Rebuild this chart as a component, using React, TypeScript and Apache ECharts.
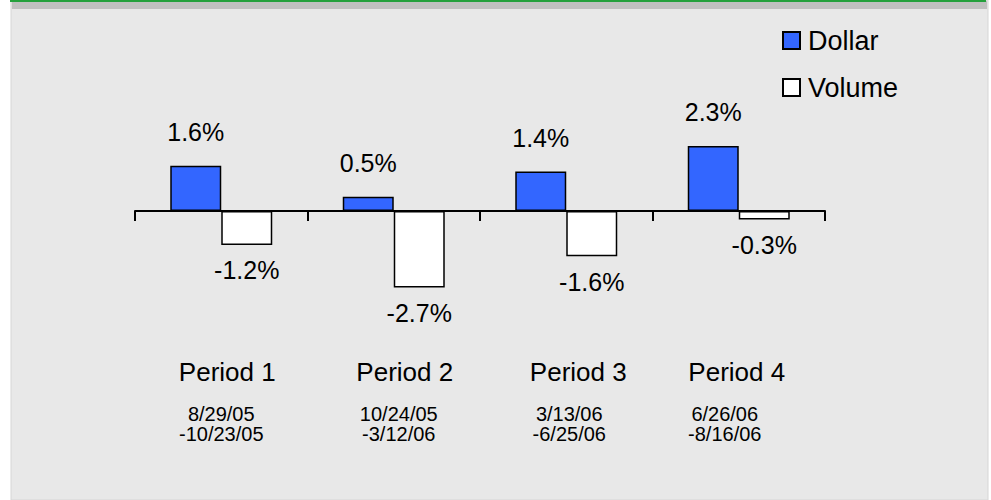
import React, { useEffect, useRef } from "react";
import * as echarts from "echarts";

const periods = ["Period 1", "Period 2", "Period 3", "Period 4"];
const dateStarts = ["8/29/05", "10/24/05", "3/13/06", "6/26/06"];
const dateEnds = ["-10/23/05", "-3/12/06", "-6/25/06", "-8/16/06"];
const dollarValues = [1.6, 0.5, 1.4, 2.3];
const volumeValues = [-1.2, -2.7, -1.6, -0.3];

const FONT = 'Arial, "Liberation Sans", Helvetica, sans-serif';

// small horizontal nudges of the category texts (px), as in the reference layout
const periodShift = [6, 11, 12, -2];
const dateShift = [0, 5, 3, -14];

const padFor = (s: number) => (s >= 0 ? [0, 0, 0, 2 * s] : [0, -2 * s, 0, 0]);

export default function App() {
  const ref = useRef<HTMLDivElement>(null);

  useEffect(() => {
    if (!ref.current) return;
    const chart = echarts.init(ref.current, undefined, { renderer: "svg" });
    const dateLabels = dateStarts.map((d, i) => `${d}\n${dateEnds[i]}`);
    const periodRich: Record<string, any> = {};
    const dateRich: Record<string, any> = {};
    periods.forEach((_, i) => {
      periodRich["p" + i] = {
        fontSize: 26,
        lineHeight: 26,
        fontFamily: FONT,
        color: "#000",
        padding: padFor(periodShift[i]),
      };
      dateRich["d" + i] = {
        fontSize: 20,
        lineHeight: 20,
        fontFamily: FONT,
        color: "#000",
        padding: padFor(dateShift[i]),
      };
    });
    chart.setOption({
      animation: false,
      backgroundColor: "#ffffff",
      textStyle: { fontFamily: FONT, color: "#000" },
      graphic: [
        {
          type: "rect",
          shape: { x: 11, y: 0, width: 977, height: 500 },
          style: { fill: "#e8e8e8", stroke: "#d6d6d6", lineWidth: 1 },
          z: -10,
        },
        {
          type: "rect",
          shape: { x: 12, y: 1, width: 975, height: 8 },
          style: { fill: "#c0c0c0" },
          z: -9,
        },
        {
          type: "rect",
          shape: { x: 10, y: 0, width: 976, height: 2 },
          style: { fill: "#24a03c" },
          z: -8,
        },
      ],
      legend: {
        orient: "vertical",
        left: 777,
        top: 22,
        itemWidth: 17,
        itemHeight: 17,
        itemGap: 20,
        icon: "rect",
        textStyle: { fontSize: 27, color: "#000", fontFamily: FONT, padding: [0, 0, 0, 3] },
        data: ["Dollar", "Volume"],
      },
      grid: { left: 135, right: 166, top: 97.8, bottom: 175.8, outerBoundsMode: "none" },
      xAxis: [
        {
          type: "category",
          data: periods,
          axisLine: { onZero: true, lineStyle: { color: "#000", width: 2 } },
          axisTick: { show: true, interval: 0, length: 10, lineStyle: { color: "#000", width: 2 } },
          axisLabel: {
            interval: 0,
            hideOverlap: false,
            margin: 35,
            fontSize: 26,
            lineHeight: 26,
            fontFamily: FONT,
            color: "#000",
            formatter: (v: string, i: number) => `{p${i}|${v}}`,
            rich: periodRich,
          },
        },
        {
          type: "category",
          data: dateLabels,
          position: "bottom",
          axisLine: { show: false, onZero: false },
          axisTick: { show: false },
          axisLabel: {
            interval: 0,
            hideOverlap: false,
            margin: 80,
            fontSize: 20,
            lineHeight: 20,
            fontFamily: FONT,
            color: "#000",
            formatter: (v: string, i: number) =>
              v
                .split("\n")
                .map((line) => `{d${i}|${line}}`)
                .join("\n"),
            rich: dateRich,
          },
        },
      ],
      yAxis: {
        type: "value",
        min: -4,
        max: 4,
        show: false,
        splitLine: { show: false },
      },
      series: [
        {
          name: "Dollar",
          type: "bar",
          xAxisIndex: 0,
          data: dollarValues,
          barWidth: 51,
          barGap: "0%",
          itemStyle: { color: "#3366FF", borderColor: "#000", borderWidth: 1.5 },
          label: {
            show: true,
            position: "top",
            distance: 21,
            fontSize: 25,
            fontFamily: FONT,
            color: "#000",
            formatter: (p: any) => `${Number(p.value).toFixed(1)}%`,
          },
        },
        {
          name: "Volume",
          type: "bar",
          xAxisIndex: 0,
          data: volumeValues,
          barWidth: 51,
          barGap: "0%",
          itemStyle: { color: "#ffffff", borderColor: "#000", borderWidth: 1.5 },
          label: {
            show: true,
            position: "bottom",
            distance: 13,
            fontSize: 25,
            fontFamily: FONT,
            color: "#000",
            formatter: (p: any) => `${Number(p.value).toFixed(1)}%`,
          },
        },
      ],
    });
    return () => chart.dispose();
  }, []);

  return (
    <div
      ref={ref}
      style={{ position: "absolute", left: 0, top: 0, width: 991, height: 500 }}
    />
  );
}
